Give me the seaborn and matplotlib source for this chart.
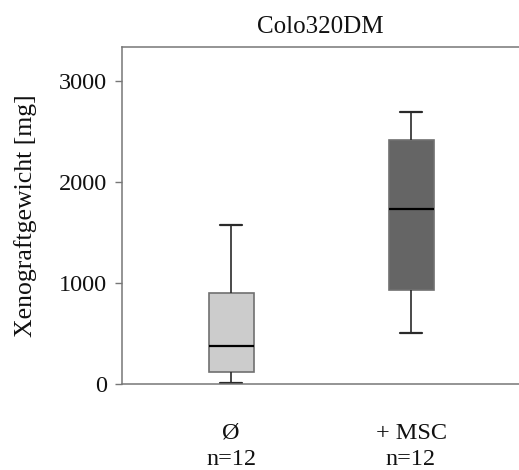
import numpy as np
import pandas as pd
import matplotlib
matplotlib.use("Agg")
import matplotlib.pyplot as plt
import seaborn as sns

# Data: five-number summaries (min, Q1, median, Q3, max)
groups = ["Ø\nn=12", "+ MSC\nn=12"]
control_vals = [10, 119, 373, 900, 1576]
msc_vals = [504, 930, 1728, 2417, 2690]
yticks = [0, 1000, 2000, 3000]

df = pd.DataFrame({
    "group": [groups[0]] * len(control_vals) + [groups[1]] * len(msc_vals),
    "value": control_vals + msc_vals,
})

sns.set_theme(style="white")
plt.rcParams["font.family"] = ["Liberation Serif", "DejaVu Serif"]

fig = plt.figure(figsize=(5.19, 4.70), dpi=100)
ax = fig.add_axes([0.235, 0.183, 0.765, 0.717])

sns.boxplot(data=df, x="group", y="value", hue="group", palette=["#cccccc", "#656565"],
            order=groups, width=0.25, whis=np.inf, legend=False, ax=ax,
            linecolor="#5a5a5a", linewidth=1.2,
            medianprops=dict(color="black", linewidth=1.6),
            whiskerprops=dict(color="#2a2a2a", linewidth=1.2),
            capprops=dict(color="#2a2a2a", linewidth=1.6),
            boxprops=dict(edgecolor="#707070", linewidth=1.2),
            showfliers=False)

ax.set_xlim(-0.606, 1.6)
ax.set_ylim(0, 3336)
ax.set_yticks(yticks)
ax.set_yticklabels([str(t) for t in yticks], fontsize=17.5, color="#111111")
ax.set_xticklabels(groups, fontsize=17.5, color="#111111", linespacing=1.3)
ax.set_xlabel("")
ax.set_ylabel("Xenograftgewicht [mg]", fontsize=18.5, color="#111111")
ax.yaxis.set_label_coords(-0.215, 0.5)
ax.set_title("Colo320DM", fontsize=18, color="#111111", pad=10)

for side in ["left", "top", "bottom"]:
    ax.spines[side].set_visible(True)
    ax.spines[side].set_color("#777777")
    ax.spines[side].set_linewidth(1.1)
ax.spines["right"].set_visible(False)

ax.tick_params(axis="y", which="both", left=True, length=5, width=1.0, color="#777777", pad=6)
ax.tick_params(axis="x", which="both", bottom=False, pad=22)

fig.savefig("out.png", dpi=100)
